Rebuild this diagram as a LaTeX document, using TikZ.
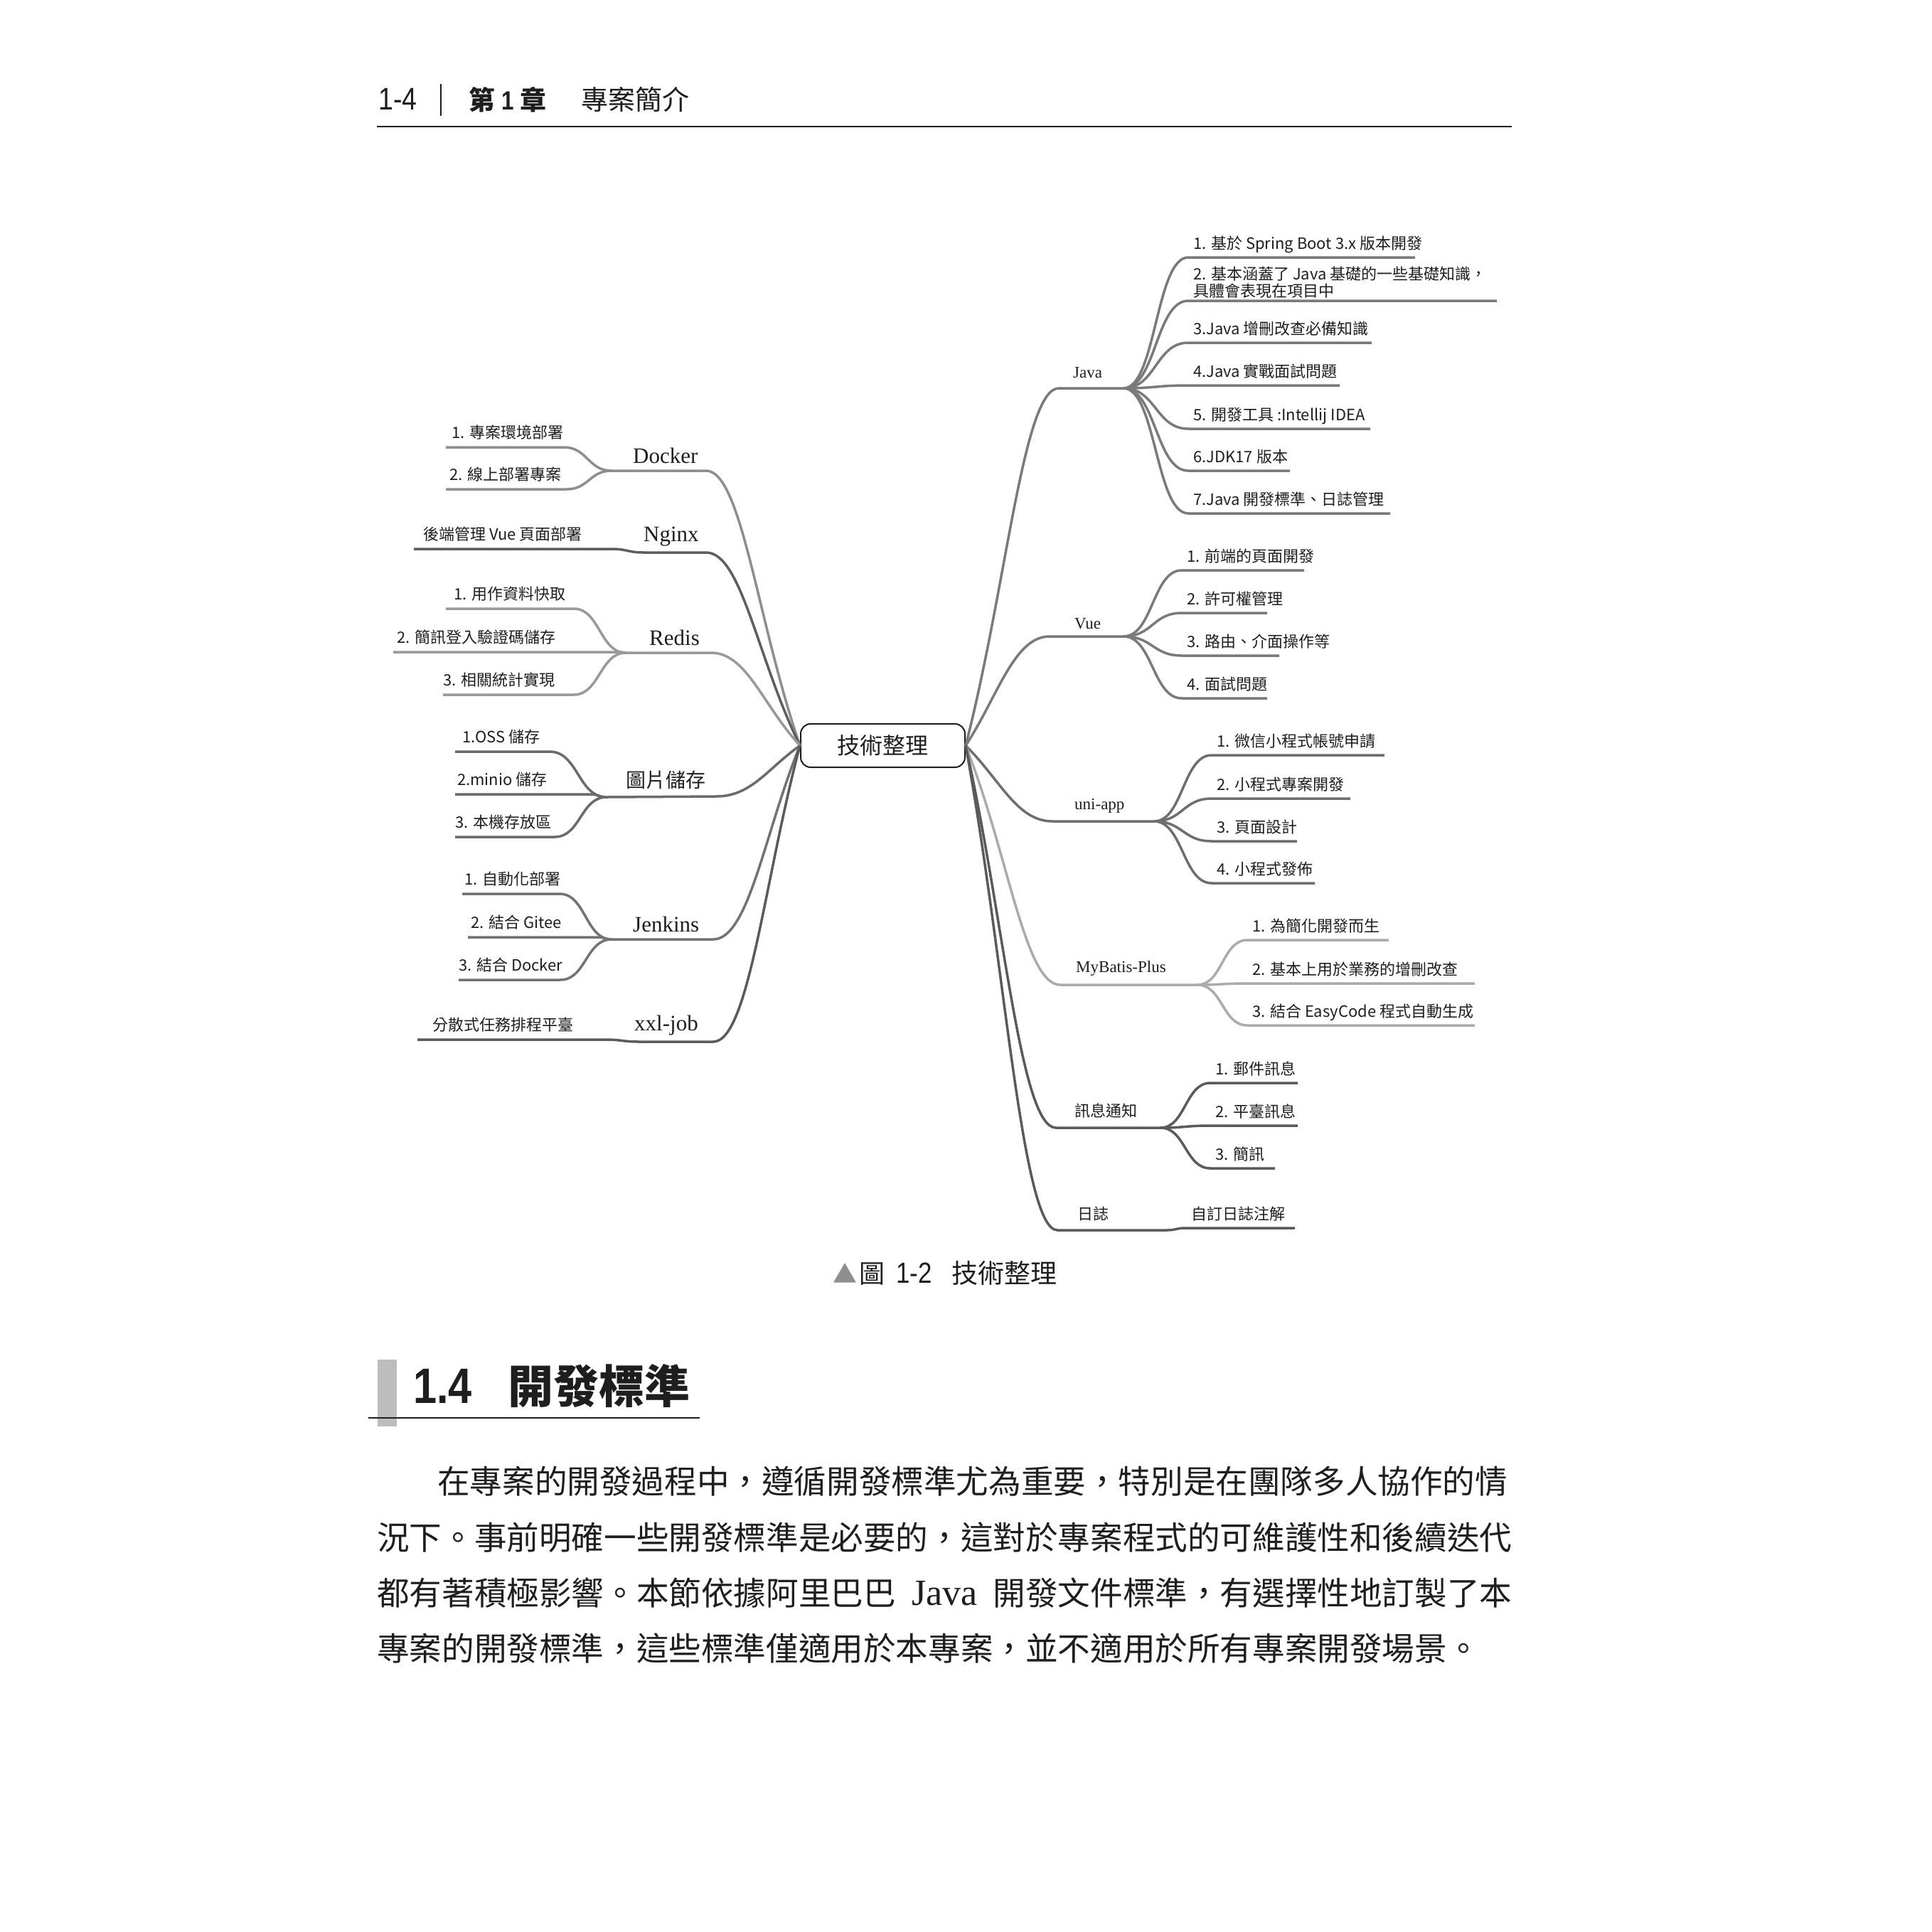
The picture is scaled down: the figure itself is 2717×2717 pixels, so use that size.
\documentclass[tikz,border=0pt]{standalone}
\usepackage{fontspec}
\setmainfont{Liberation Serif}
\newfontfamily\cjk{Noto Sans CJK TC}
\newfontfamily\hsans[FakeStretch=0.85]{Liberation Sans}
\newfontfamily\tms{Liberation Serif}
\usetikzlibrary{calc}
\definecolor{cDock}{HTML}{8E8E8E}
\definecolor{cNginx}{HTML}{5E5E5E}
\definecolor{cRedis}{HTML}{999999}
\definecolor{cImg}{HTML}{6A6A6A}
\definecolor{cJenk}{HTML}{737373}
\definecolor{cXxl}{HTML}{5A5A5A}
\definecolor{cJava}{HTML}{7A7A7A}
\definecolor{cVue}{HTML}{7A7A7A}
\definecolor{cUni}{HTML}{6E6E6E}
\definecolor{cMyb}{HTML}{ABABAB}
\definecolor{cMsg}{HTML}{5A5A5A}
\definecolor{cLog}{HTML}{5A5A5A}
\definecolor{txt}{HTML}{1E1E1E}
\definecolor{barg}{HTML}{BDBDBD}
\colorlet{bc}{cDock}
\tikzset{
  br/.style={draw=bc, line width=3.5pt},
  ltxt/.style={anchor=base west, inner sep=0pt, text=txt, font=\cjk\fontsize{22}{26}\selectfont},
  rtxt/.style={anchor=base west, inner sep=0pt, text=txt, font=\cjk\fontsize{22}{26}\selectfont},
  lpar/.style={anchor=base west, inner sep=0pt, text=txt, font=\tms\fontsize{31}{36}\selectfont},
  lparc/.style={anchor=base west, inner sep=0pt, text=txt, font=\cjk\fontsize{28}{32}\selectfont},
  rpar/.style={anchor=base west, inner sep=0pt, text=txt, font=\tms\fontsize{23}{27}\selectfont},
  rparc/.style={anchor=base west, inner sep=0pt, text=txt, font=\cjk\fontsize{22}{26}\selectfont},
  para/.style={anchor=base west, inner sep=0pt, text=txt, font=\cjk\fontsize{45.6}{50}\selectfont},
}
% left leaf: name, junction, d, startx, endx, y, textx, text
\newcommand\lleaf[8]{%
  \coordinate (#1s) at (#4,#6);
  \coordinate (#1e) at (#5,#6);
  \node[ltxt] (#1) at (#7,#6-13) {#8};
  \draw[br] (#1s) -- (#1e) .. controls +(#3,0) and +(-#3,0) .. (#2);
}
% right leaf: name, junction, d, startx, endx, y, text
\newcommand\rleaf[7]{%
  \coordinate (#1s) at (#4,#6);
  \coordinate (#1e) at (#5,#6);
  \node[rtxt] (#1) at (#4+7,#6-12) {#7};
  \draw[br] (#2) .. controls +(#3,0) and +(-#3,0) .. (#1s) -- (#1e);
}
\begin{document}
\begin{tikzpicture}[x=1pt,y=-1pt]
\fill[white] (0,0) rectangle (2717,2717);
\useasboundingbox (0,0) rectangle (2717,2717);

% ---------- header ----------
\node[anchor=base west, inner sep=0pt, text=txt, font=\hsans\fontsize{44}{48}\selectfont] (pg) at (532,154) {1-4};
\draw[line width=2pt, txt] (620,118) -- (620,163);
\node[anchor=base west, inner sep=0pt, text=txt, font=\fontsize{37}{42}\selectfont] (chap) at (659,154) {{\cjk\bfseries 第}\hspace{9pt}{\hsans\bfseries 1}\hspace{9pt}{\cjk\bfseries 章}};
\node[anchor=base west, inner sep=0pt, text=txt, font=\cjk\fontsize{38}{42}\selectfont] (chapt) at (817,154) {專案簡介};
\draw[line width=2pt, txt] (530,178) -- (2126,178);

% ---------- root ----------
\node[draw=txt, line width=2pt, rounded corners=14pt, fill=white, minimum width=231pt, minimum height=61pt, inner sep=0pt, text=txt, font=\cjk\fontsize{32}{36}\selectfont] (root) at (1241.5,1048.5) {技術整理};

% ---------- left: Docker ----------
\colorlet{bc}{cDock}
\coordinate (dkJ) at (860,662); \coordinate (dkE) at (993,662);
\node[lpar] (dk) at (890,651) {Docker};
\draw[br] (dkJ) -- (dkE) .. controls +(50,0) and (1065,875) .. (root.west);
\lleaf{dka}{dkJ}{33}{627}{793}{629}{635}{1. 專案環境部署}
\lleaf{dkb}{dkJ}{31}{627}{797}{688}{632}{2. 線上部署專案}

% ---------- Nginx ----------
\colorlet{bc}{cNginx}
\coordinate (ngJ) at (905,777); \coordinate (ngE) at (993,777);
\node[lpar] (ng) at (905,761) {Nginx};
\draw[br] (ngJ) -- (ngE) .. controls +(50,0) and (1065,927) .. (root.west);
\lleaf{nga}{ngJ}{22}{582}{860}{772}{595}{後端管理 Vue 頁面部署}

% ---------- Redis ----------
\colorlet{bc}{cRedis}
\coordinate (rdJ) at (880,918); \coordinate (rdE) at (1000,918);
\node[lpar] (rd) at (913,907) {Redis};
\draw[br] (rdJ) -- (rdE) .. controls +(50,0) and (1072,991) .. (root.west);
\lleaf{rda}{rdJ}{36}{627}{807}{856}{638}{1. 用作資料快取}
\lleaf{rdb}{rdJ}{3.5}{553}{873}{917}{558}{2. 簡訊登入驗證碼儲存}
\lleaf{rdc}{rdJ}{36}{623}{807}{977}{623}{3. 相關統計實現}

% ---------- image storage ----------
\colorlet{bc}{cImg}
\coordinate (imJ) at (853,1121); \coordinate (imE) at (1007,1120);
\node[lparc] (im) at (880,1107) {圖片儲存};
\draw[br] (imJ) -- (imE) .. controls +(50,0) and (1079,1081) .. (root.west);
\lleaf{ima}{imJ}{40}{640}{773}{1057}{650}{1.OSS 儲存}
\lleaf{imb}{imJ}{11.5}{640}{830}{1117}{643}{2.minio 儲存}
\lleaf{imc}{imJ}{36.5}{640}{780}{1177}{640}{3. 本機存放區}

% ---------- Jenkins ----------
\colorlet{bc}{cJenk}
\coordinate (jkJ) at (860,1321); \coordinate (jkE) at (1003,1321);
\node[lpar] (jk) at (890,1310) {Jenkins};
\draw[br] (jkJ) -- (jkE) .. controls +(50,0) and (1075,1171) .. (root.west);
\lleaf{jka}{jkJ}{36.5}{650}{787}{1257}{653}{1. 自動化部署}
\lleaf{jkb}{jkJ}{10}{658}{840}{1318}{662}{2. 結合 Gitee}
\lleaf{jkc}{jkJ}{36}{645}{788}{1378}{645}{3. 結合 Docker}

% ---------- xxl-job ----------
\colorlet{bc}{cXxl}
\coordinate (xjJ) at (900,1465); \coordinate (xjE) at (1003,1465);
\node[lpar] (xj) at (892,1449) {xxl-job};
\draw[br] (xjJ) -- (xjE) .. controls +(50,0) and (1075,1236) .. (root.west);
\lleaf{xja}{xjJ}{25}{587}{850}{1462}{608}{分散式任務排程平臺}

% ---------- right: Java ----------
\colorlet{bc}{cJava}
\coordinate (jvS) at (1489,546); \coordinate (jvJ) at (1580,546);
\node[rpar] (jv) at (1509,531) {Java};
\draw[br] (root.east) .. controls (1416,823) and +(-50,0) .. (jvS) -- (jvJ);
\rleaf{jva}{jvJ}{45.5}{1671}{1990}{362}{1. 基於 Spring Boot 3.x 版本開發}
\coordinate (jvbs) at (1671,423); \coordinate (jvbe) at (2105,423);
\node[rtxt, anchor=south west, align=left, font=\cjk\fontsize{22}{24}\selectfont] (jvb) at (1678,420) {2. 基本涵蓋了 Java 基礎的一些基礎知識，\\具體會表現在項目中};
\draw[br] (jvJ) .. controls +(45.5,0) and +(-45.5,0) .. (jvbs) -- (jvbe);
\rleaf{jvc}{jvJ}{45.5}{1671}{1929}{482}{3.Java 增刪改查必備知識}
\rleaf{jvd}{jvJ}{45.5}{1671}{1884}{542}{4.Java 實戰面試問題}
\rleaf{jve}{jvJ}{45.5}{1671}{1927}{603}{5. 開發工具 :Intellij IDEA}
\rleaf{jvf}{jvJ}{45.5}{1671}{1814}{662}{6.JDK17 版本}
\rleaf{jvg}{jvJ}{45.5}{1671}{1955}{722}{7.Java 開發標準、日誌管理}

% ---------- Vue ----------
\colorlet{bc}{cVue}
\coordinate (vuS) at (1476,895); \coordinate (vuJ) at (1580,895);
\node[rpar] (vu) at (1511,884) {Vue};
\draw[br] (root.east) .. controls (1403,980) and +(-50,0) .. (vuS) -- (vuJ);
\rleaf{vua}{vuJ}{41}{1662}{1834}{802}{1. 前端的頁面開發}
\rleaf{vub}{vuJ}{41}{1662}{1782}{862}{2. 許可權管理}
\rleaf{vuc}{vuJ}{41}{1662}{1799}{922}{3. 路由、介面操作等}
\rleaf{vud}{vuJ}{41}{1662}{1782}{982}{4. 面試問題}

% ---------- uni-app ----------
\colorlet{bc}{cUni}
\coordinate (uaS) at (1480,1155); \coordinate (uaJ) at (1623,1155);
\node[rpar] (ua) at (1511,1138) {uni-app};
\draw[br] (root.east) .. controls (1407,1097) and +(-50,0) .. (uaS) -- (uaJ);
\rleaf{uaa}{uaJ}{40.5}{1704}{1947}{1062}{1. 微信小程式帳號申請}
\rleaf{uab}{uaJ}{40.5}{1704}{1899}{1123}{2. 小程式專案開發}
\rleaf{uac}{uaJ}{40.5}{1704}{1824}{1183}{3. 頁面設計}
\rleaf{uad}{uaJ}{40.5}{1704}{1849}{1242}{4. 小程式發佈}

% ---------- MyBatis-Plus ----------
\colorlet{bc}{cMyb}
\coordinate (mbS) at (1491,1385); \coordinate (mbJ) at (1684,1385);
\node[rpar] (mb) at (1513,1367) {MyBatis-Plus};
\draw[br] (root.east) .. controls (1418,1200) and +(-50,0) .. (mbS) -- (mbJ);
\rleaf{mba}{mbJ}{35}{1754}{1953}{1322}{1. 為簡化開發而生}
\rleaf{mbb}{mbJ}{35}{1754}{2074}{1383}{2. 基本上用於業務的增刪改查}
\rleaf{mbc}{mbJ}{35}{1754}{2074}{1442}{3. 結合 EasyCode 程式自動生成}

% ---------- messages ----------
\colorlet{bc}{cMsg}
\coordinate (mqS) at (1485,1586); \coordinate (mqJ) at (1632,1586);
\node[rparc] (mq) at (1511,1570) {訊息通知};
\draw[br] (root.east) .. controls (1412,1291) and +(-50,0) .. (mqS) -- (mqJ);
\rleaf{mqa}{mqJ}{35}{1702}{1825}{1523}{1. 郵件訊息}
\rleaf{mqb}{mqJ}{35}{1702}{1825}{1583}{2. 平臺訊息}
\rleaf{mqc}{mqJ}{35}{1702}{1793}{1643}{3. 簡訊}

% ---------- log ----------
\colorlet{bc}{cLog}
\coordinate (rzS) at (1487,1730); \coordinate (rzJ) at (1640,1730);
\node[rparc] (rz) at (1515,1715) {日誌};
\draw[br] (root.east) .. controls (1414,1355) and +(-50,0) .. (rzS) -- (rzJ);
\rleaf{rza}{rzJ}{15}{1668}{1821}{1727}{自訂日誌注解}

% ---------- caption ----------
\node[anchor=base west, inner sep=0pt, text=cDock, font=\cjk\fontsize{34}{38}\selectfont] (capa) at (1171,1804) {▲};
\node[anchor=base west, inner sep=0pt, text=txt, font=\cjk\fontsize{36}{40}\selectfont] (capb) at (1208,1804) {圖};
\node[anchor=base west, inner sep=0pt, text=txt, font=\hsans\fontsize{41}{44}\selectfont] (capc) at (1260,1804) {1-2};
\node[anchor=base west, inner sep=0pt, text=txt, font=\cjk\fontsize{37}{40}\selectfont] (capd) at (1338,1804) {技術整理};

% ---------- section heading ----------
\fill[barg] (531,1912) rectangle (558,2006);
\draw[line width=2pt, txt] (518,1994) -- (984,1994);
\node[anchor=base west, inner sep=0pt, text=txt, font=\hsans\bfseries\fontsize{70}{74}\selectfont] (secn) at (581,1973) {1.4};
\node[anchor=base west, inner sep=0pt, text=txt, font=\cjk\bfseries\fontsize{64}{70}\selectfont] (sect) at (714,1973) {開發標準};

% ---------- paragraph ----------
\node[para] (pa) at (615,2100) {\makebox[1511pt][s]{在專案的開發過程中，遵循開發標準尤為重要，特別是在團隊多人協作的情}};
\node[para] (pb) at (530,2179) {況下。事前明確一些開發標準是必要的，這對於專案程式的可維護性和後續迭代};
\node[para] (pc) at (530,2257) {\makebox[1596pt][s]{都有著積極影響。本節依據阿里巴巴 {\tms\fontsize{52}{56}\selectfont Java} 開發文件標準，有選擇性地訂製了本}};
\node[para] (pd) at (530,2335) {專案的開發標準，這些標準僅適用於本專案，並不適用於所有專案開發場景。};
\end{tikzpicture}
\end{document}
